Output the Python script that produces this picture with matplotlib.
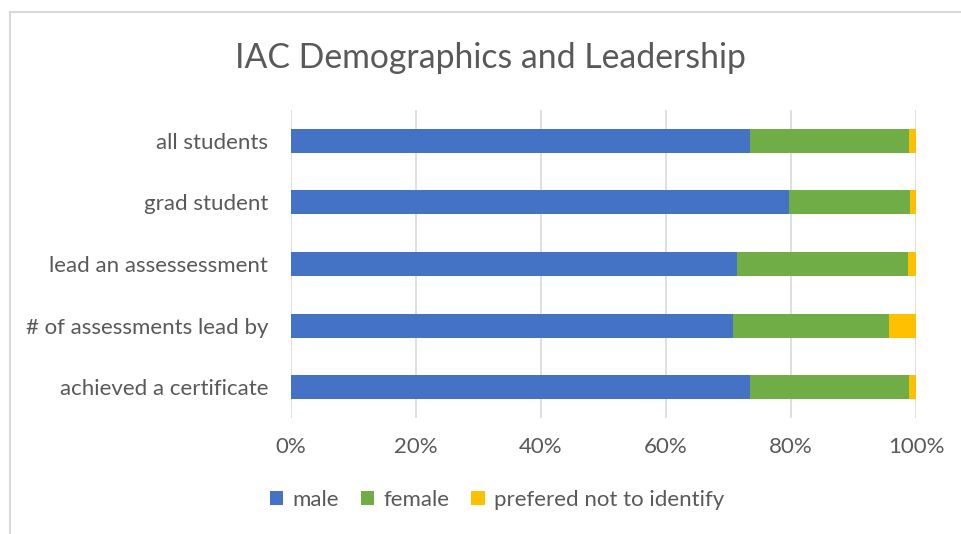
import matplotlib
matplotlib.use("Agg")
import matplotlib.pyplot as plt
from matplotlib.lines import Line2D
from matplotlib.patches import Patch
import numpy as np

categories = ["all students", "grad student", "lead an assessessment",
              "# of assessments lead by", "achieved a certificate"]
male = [73.4, 79.6, 71.4, 70.7, 73.4]
female = [25.5, 19.5, 27.3, 24.9, 25.5]
prefered = [1.1, 0.9, 1.3, 4.4, 1.1]
series_names = ["male", "female", "prefered not to identify"]
colors = ["#4472C4", "#70AD47", "#FFC000"]
xticks = [0, 20, 40, 60, 80, 100]

plt.rcParams['font.family'] = ['Lato', 'DejaVu Sans']
W, H = 961, 534
fig = plt.figure(figsize=(W / 100, H / 100), dpi=100)
ax = fig.add_axes([291 / W, 1 - 418 / H, (916 - 291) / W, (418 - 110) / H])

n = len(categories)
y = np.arange(n)[::-1]
left = np.zeros(n)
for vals, name, c in zip([male, female, prefered], series_names, colors):
    v = np.array(vals)
    ax.barh(y, v, left=left, height=0.39, color=c, label=name, zorder=3)
    left += v

ax.set_xlim(0, 100)
ax.set_ylim(-0.5, n - 0.5)
ax.set_yticks(y)
ax.set_yticklabels(categories, fontsize=16, color="#595959")
ax.set_xticks(xticks)
ax.set_xticklabels([f"{t}%" for t in xticks], fontsize=16, color="#595959")
ax.tick_params(axis='both', length=0)
ax.tick_params(axis='y', pad=16.5)
ax.tick_params(axis='x', pad=14)
ax.grid(axis='x', color="#D9D9D9", linewidth=1.2, zorder=0)
for s in ax.spines.values():
    s.set_visible(False)

fig.text(490 / W, 1 - 58 / H, "IAC Demographics and Leadership", ha='center', va='center',
         fontsize=24.3, color="#595959")

handles = [Patch(facecolor=c, edgecolor='none') for c in colors]
fig.legend(handles, series_names, loc='center', bbox_to_anchor=(497 / W, 1 - 500 / H),
           ncol=3, frameon=False, fontsize=16, labelcolor="#595959",
           handlelength=0.6, handleheight=0.6, handletextpad=0.4, columnspacing=1.0)

# chart frame (left and top edges visible)
fig.add_artist(Line2D([10 / W, 10 / W], [0, 1 - 12 / H], transform=fig.transFigure,
                      color="#D9D9D9", linewidth=1.5))
fig.add_artist(Line2D([10 / W, 1], [1 - 12 / H, 1 - 12 / H], transform=fig.transFigure,
                      color="#D9D9D9", linewidth=1.5))

fig.savefig("out.png", dpi=100)
